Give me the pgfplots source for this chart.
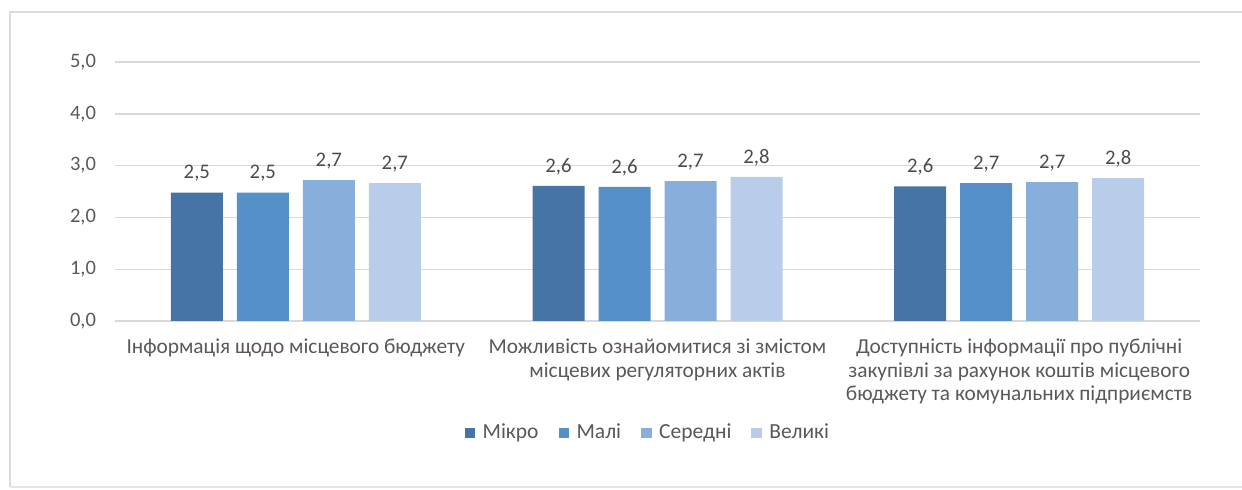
\documentclass[border=0pt]{standalone}
\usepackage{pgfplots}
\pgfplotsset{compat=1.18}
\usepackage{fontspec}
\setmainfont{Carlito}

\definecolor{mikro}{HTML}{4674A6}
\definecolor{mali}{HTML}{5590C8}
\definecolor{seredni}{HTML}{88AEDB}
\definecolor{velyki}{HTML}{B7CDE9}
\definecolor{txt}{HTML}{595959}
\definecolor{gridc}{HTML}{D9D9D9}

\begin{document}
\begin{tikzpicture}
\useasboundingbox (0,0) rectangle (621bp,245bp);
% frame of the chart area (cut off at the right)
\draw[line width=1.4bp, draw=black!14] (5bp,1.5bp) -- (5bp,239bp) -- (621bp,239bp);
\draw[line width=1.4bp, draw=black!10] (5bp,1.5bp) -- (621bp,1.5bp);
\begin{axis}[
    at={(57.5bp,84.5bp)}, anchor=south west,
    width=542.5bp, height=129.5bp, scale only axis,
    ybar=7bp, bar width=26bp,
    xmin=-0.5, xmax=2.5,
    ymin=0, ymax=5,
    xtick={0,1,2},
    xticklabels={
        {Інформація щодо місцевого бюджету},
        {Можливість ознайомитися зі змістом\\місцевих регуляторних актів},
        {Доступність інформації про публічні\\закупівлі за рахунок коштів місцевого\\бюджету та комунальних підприємств}},
    ytick={0,1,2,3,4,5},
    axis line style={draw=none},
    major tick length=0pt,
    ymajorgrids, grid style={draw=gridc, line width=0.7bp},
    /pgf/number format/assume math mode=true,
    yticklabel style={font=\fontsize{10.3}{12}\selectfont, text=txt,
        /pgf/number format/.cd, fixed, fixed zerofill, precision=1, use comma},
    yticklabel shift=6bp,
    xticklabel style={font=\fontsize{10.7}{11.8}\selectfont, text=txt, align=center, anchor=north},
    xticklabel shift=5.5bp,
    nodes near coords={\pgfmathprintnumber[fixed,fixed zerofill,precision=1,use comma]{\pgfplotspointmeta}},
    nodes near coords style={font=\fontsize{10.4}{12}\selectfont, text=txt!85!black, yshift=2bp},
    legend style={at={(0.492,-0.432)}, anchor=center, legend columns=-1, draw=none,
        font=\fontsize{10.8}{12}\selectfont, text=txt,
        /tikz/every even column/.append style={column sep=8bp}},
    legend image code/.code={\fill[#1] (0bp,-2.6bp) rectangle (5.2bp,2.6bp);
        \path (7bp,0bp);},
]
\addplot[fill=mikro, draw=none] coordinates {(0,2.48) (1,2.61) (2,2.60)};
\addplot[fill=mali, draw=none] coordinates {(0,2.48) (1,2.59) (2,2.66)};
\addplot[fill=seredni, draw=none] coordinates {(0,2.72) (1,2.70) (2,2.68)};
\addplot[fill=velyki, draw=none] coordinates {(0,2.66) (1,2.78) (2,2.76)};
\legend{Мікро, Малі, Середні, Великі}
\end{axis}
\end{tikzpicture}
\end{document}
